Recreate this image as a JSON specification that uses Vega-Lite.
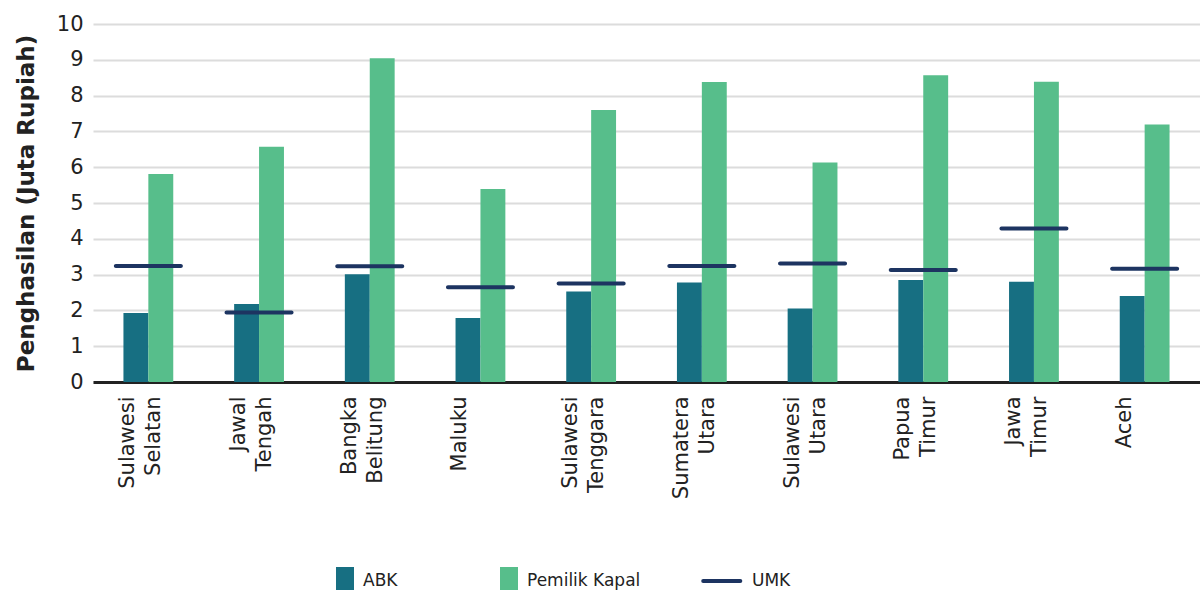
{
  "$schema": "https://vega.github.io/schema/vega-lite/v6.json",
  "width": 1107,
  "height": 358,
  "autosize": {"type": "none"},
  "padding": {"left": 93, "top": 24, "right": 0, "bottom": 208},
  "background": "white",
  "config": {
    "font": "DejaVu Sans",
    "view": {"stroke": null},
    "axis": {"labelFont": "DejaVu Sans", "titleFont": "DejaVu Sans", "labelColor": "#222222", "titleColor": "#222222"}
  },
  "data": {
    "values": [
      {"region": "Sulawesi Selatan", "series": "ABK", "value": 1.93},
      {"region": "Sulawesi Selatan", "series": "Pemilik Kapal", "value": 5.81},
      {"region": "Sulawesi Selatan", "series": "UMK", "value": 3.24},
      {"region": "Jawal Tengah", "series": "ABK", "value": 2.18},
      {"region": "Jawal Tengah", "series": "Pemilik Kapal", "value": 6.57},
      {"region": "Jawal Tengah", "series": "UMK", "value": 1.94},
      {"region": "Bangka Belitung", "series": "ABK", "value": 3.01},
      {"region": "Bangka Belitung", "series": "Pemilik Kapal", "value": 9.04},
      {"region": "Bangka Belitung", "series": "UMK", "value": 3.23},
      {"region": "Maluku", "series": "ABK", "value": 1.79},
      {"region": "Maluku", "series": "Pemilik Kapal", "value": 5.39},
      {"region": "Maluku", "series": "UMK", "value": 2.65},
      {"region": "Sulawesi Tenggara", "series": "ABK", "value": 2.53},
      {"region": "Sulawesi Tenggara", "series": "Pemilik Kapal", "value": 7.6},
      {"region": "Sulawesi Tenggara", "series": "UMK", "value": 2.75},
      {"region": "Sumatera Utara", "series": "ABK", "value": 2.78},
      {"region": "Sumatera Utara", "series": "Pemilik Kapal", "value": 8.38},
      {"region": "Sumatera Utara", "series": "UMK", "value": 3.24},
      {"region": "Sulawesi Utara", "series": "ABK", "value": 2.05},
      {"region": "Sulawesi Utara", "series": "Pemilik Kapal", "value": 6.13},
      {"region": "Sulawesi Utara", "series": "UMK", "value": 3.31},
      {"region": "Papua Timur", "series": "ABK", "value": 2.85},
      {"region": "Papua Timur", "series": "Pemilik Kapal", "value": 8.57},
      {"region": "Papua Timur", "series": "UMK", "value": 3.13},
      {"region": "Jawa Timur", "series": "ABK", "value": 2.8},
      {"region": "Jawa Timur", "series": "Pemilik Kapal", "value": 8.39},
      {"region": "Jawa Timur", "series": "UMK", "value": 4.29},
      {"region": "Aceh", "series": "ABK", "value": 2.4},
      {"region": "Aceh", "series": "Pemilik Kapal", "value": 7.19},
      {"region": "Aceh", "series": "UMK", "value": 3.16}
    ]
  },
  "encoding": {
    "x": {
      "field": "region",
      "type": "nominal",
      "sort": null,
      "scale": {"paddingInner": 0.55, "paddingOuter": 0.275},
      "axis": {
        "title": null,
        "labelAngle": -90,
        "labelAlign": "right",
        "labelBaseline": "middle",
        "labelExpr": "split(datum.label, ' ')",
        "labelLineHeight": 26,
        "labelFontSize": 21,
        "labelPadding": 14,
        "labelOffset": -20,
        "ticks": false,
        "domain": true,
        "domainColor": "#222222",
        "domainWidth": 3,
        "grid": false
      }
    },
    "y": {
      "field": "value",
      "type": "quantitative",
      "scale": {"domain": [0, 10], "nice": false},
      "axis": {
        "title": "Penghasilan (Juta Rupiah)",
        "titleFontSize": 23,
        "titleFontWeight": "bold",
        "titlePadding": 18,
        "values": [0, 1, 2, 3, 4, 5, 6, 7, 8, 9, 10],
        "labelFontSize": 21,
        "labelPadding": 10,
        "ticks": false,
        "domain": false,
        "grid": true,
        "gridColor": "#dcdcdc",
        "gridWidth": 2
      }
    },
    "color": {
      "field": "series",
      "type": "nominal",
      "scale": {
        "domain": ["ABK", "Pemilik Kapal", "UMK"],
        "range": ["#176f82", "#57be8b", "#1d3461"]
      },
      "legend": {
        "title": null,
        "orient": "none",
        "direction": "horizontal",
        "legendX": 236,
        "legendY": 541,
        "labelFont": "DejaVu Sans",
        "labelFontSize": 17,
        "labelColor": "#222222",
        "labelOffset": 2,
        "columnPadding": 54,
        "symbolSize": 784,
        "encode": {
          "symbols": {
            "update": {
              "shape": {"signal": "datum.label === 'UMK' ? 'M0,-1M-2.2,0H0.45M0,1' : (datum.label === 'ABK' ? 'M-0.643,-1H0.643V1H-0.643ZM6,0' : 'M-0.643,-1H0.643V1H-0.643Z')"},
              "stroke": {"signal": "datum.label === 'UMK' ? '#1d3461' : 'transparent'"},
              "strokeWidth": {"value": 4},
              "strokeCap": {"value": "round"}
            }
          }
        }
      }
    }
  },
  "layer": [
    {
      "transform": [{"filter": "datum.series !== 'UMK'"}],
      "mark": {"type": "bar"},
      "encoding": {
        "xOffset": {
          "field": "series",
          "type": "nominal",
          "scale": {"domain": ["ABK", "Pemilik Kapal"], "paddingInner": 0, "paddingOuter": 0}
        }
      }
    },
    {
      "transform": [{"filter": "datum.series === 'UMK'"}],
      "mark": {"type": "tick", "size": 69, "thickness": 4, "cornerRadius": 2},
      "encoding": {"opacity": {"value": 1}}
    }
  ]
}
